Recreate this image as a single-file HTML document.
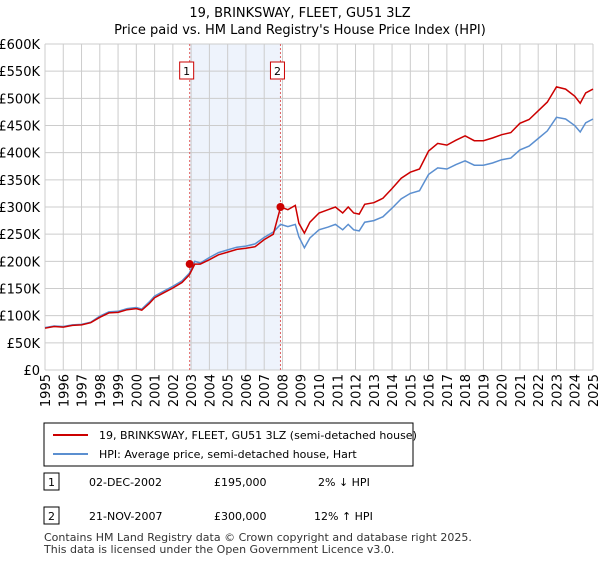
<!DOCTYPE html>
<html><head><meta charset="utf-8"><style>
body{margin:0;background:#fff;font-family:"Liberation Sans","DejaVu Sans",sans-serif;}
svg text{font-family:"DejaVu Sans","Liberation Sans",sans-serif;}
</style></head><body>
<svg id="chart" width="600" height="560" xmlns="http://www.w3.org/2000/svg">
<text x="300" y="17" text-anchor="middle" font-size="13">19, BRINKSWAY, FLEET, GU51 3LZ</text>
<text x="300" y="34" text-anchor="middle" font-size="13">Price paid vs. HM Land Registry's House Price Index (HPI)</text>
<g id="grid"></g><g id="marks"></g><g id="axes"></g>
<rect x="44" y="423" width="369" height="43" fill="#fff" stroke="#000" stroke-width="1"/>
<line x1="53" y1="435" x2="88" y2="435" stroke="#cc0000" stroke-width="2"/>
<text x="99" y="439" font-size="11">19, BRINKSWAY, FLEET, GU51 3LZ (semi-detached house)</text>
<line x1="53" y1="454" x2="88" y2="454" stroke="#5b8fd0" stroke-width="2"/>
<text x="99" y="458" font-size="11">HPI: Average price, semi-detached house, Hart</text>
<rect x="44" y="473" width="15" height="17" fill="#fff" stroke="#000"/>
<text x="51.5" y="486" font-size="11" text-anchor="middle">1</text>
<text x="89" y="486" font-size="11">02-DEC-2002</text>
<text x="214" y="486" font-size="11">£195,000</text>
<text x="318" y="486" font-size="11">2% ↓ HPI</text>
<rect x="44" y="507" width="15" height="17" fill="#fff" stroke="#000"/>
<text x="51.5" y="520" font-size="11" text-anchor="middle">2</text>
<text x="89" y="520" font-size="11">21-NOV-2007</text>
<text x="214" y="520" font-size="11">£300,000</text>
<text x="314" y="520" font-size="11">12% ↑ HPI</text>
<text x="44" y="541" font-size="11" fill="#333">Contains HM Land Registry data © Crown copyright and database right 2025.</text>
<text x="44" y="553" font-size="11" fill="#333">This data is licensed under the Open Government Licence v3.0.</text>
</svg>
<script>
const years=[1995,1995.5,1996,1996.5,1997,1997.5,1998,1998.5,1999,1999.5,2000,2000.3,2000.7,2001,2001.5,2002,2002.5,2002.9,2003.2,2003.5,2004,2004.5,2005,2005.5,2006,2006.5,2007,2007.5,2007.9,2008.3,2008.7,2008.9,2009.2,2009.5,2010,2010.5,2010.9,2011.3,2011.6,2011.9,2012.2,2012.5,2013,2013.5,2014,2014.5,2015,2015.5,2016,2016.5,2017,2017.5,2018,2018.5,2019,2019.5,2020,2020.5,2021,2021.5,2022,2022.5,2023,2023.5,2024,2024.3,2024.6,2025];
const hpiValues=[78,81,80,83,84,88,99,107,108,113,115,112,125,136,145,154,164,178,200,197,207,216,221,226,228,232,244,254,268,264,268,245,225,243,258,263,268,258,268,258,256,272,275,282,298,315,325,330,360,372,370,378,385,377,377,381,387,390,405,412,426,440,465,462,450,438,455,462];
const priceValues=[77,80,79,82,83,87,97,105,106,111,113,110,122,133,142,151,161,175,195,195,203,212,217,222,224,227,240,250,300,295,303,270,252,272,289,295,300,289,300,289,287,305,308,316,334,353,364,370,403,417,414,423,431,422,422,427,433,437,454,461,477,493,521,517,504,491,510,517];
const saleYears=[2002.92,2007.89];
const salePrices=[195,300];
const saleLabels=["1","2"];
const yTicks=[0,50,100,150,200,250,300,350,400,450,500,550,600];
const xTicks=[1995,1996,1997,1998,1999,2000,2001,2002,2003,2004,2005,2006,2007,2008,2009,2010,2011,2012,2013,2014,2015,2016,2017,2018,2019,2020,2021,2022,2023,2024,2025];
const X0=45,X1=593,Y0=370,Y1=44;
const xs=y=>X0+(y-1995)/30*(X1-X0);
const ys=v=>Y0-v/600*(Y0-Y1);
const NS="http://www.w3.org/2000/svg";
function mk(t,a,p){const e=document.createElementNS(NS,t);for(const k in a)e.setAttribute(k,a[k]);p.appendChild(e);return e;}
const grid=document.getElementById('grid'),marks=document.getElementById('marks'),axes=document.getElementById('axes');
const sh=mk('rect',{x:xs(saleYears[0]),y:Y1,width:xs(saleYears[1])-xs(saleYears[0]),height:Y0-Y1,fill:'#eef3fc'},grid);


yTicks.forEach(v=>{
 const l=mk('line',{x1:X0,x2:X1,y1:ys(v),y2:ys(v),stroke:'#cccccc'},grid);
 
 
 const t=mk('text',{x:40,y:ys(v)+5,'text-anchor':'end','font-size':'13'},axes);
 t.textContent=v===0?'£0':'£'+v+'K';
 
 
});
xTicks.forEach(y=>{
 const l=mk('line',{x1:xs(y),x2:xs(y),y1:Y1,y2:Y0,stroke:'#cccccc'},grid);
 
 
 const t=mk('text',{x:0,y:0,'text-anchor':'end','font-size':'13',transform:`translate(${xs(y)+5},374) rotate(-90)`},axes);
 t.textContent=y;
 
 
});
saleYears.forEach((y,i)=>{
 const l=mk('line',{x1:xs(y),x2:xs(y),y1:Y1,y2:Y0,stroke:'#e06060','stroke-dasharray':'2,2'},marks);
 
 
 const r=mk('rect',{x:xs(y)-10,y:62,width:14,height:17,fill:'#fff',stroke:'#cc0000'},marks);
 
 
 const t=mk('text',{x:xs(y)-3,y:75,'text-anchor':'middle','font-size':'11'},marks);
 t.textContent=saleLabels[i];
 
 
});
function path(vals){return vals.map((v,i)=>(i?'L':'M')+xs(years[i]).toFixed(1)+','+ys(v).toFixed(1)).join('');}
const hp=mk('path',{d:path(hpiValues),fill:'none',stroke:'#5b8fd0','stroke-width':'1.5'},marks);


const pp=mk('path',{d:path(priceValues),fill:'none',stroke:'#cc0000','stroke-width':'1.5'},marks);


saleYears.forEach((y,i)=>{
 const c=mk('circle',{cx:xs(y),cy:ys(salePrices[i]),r:4,fill:'#cc0000'},marks);
 
 
});
</script>
</body></html>
